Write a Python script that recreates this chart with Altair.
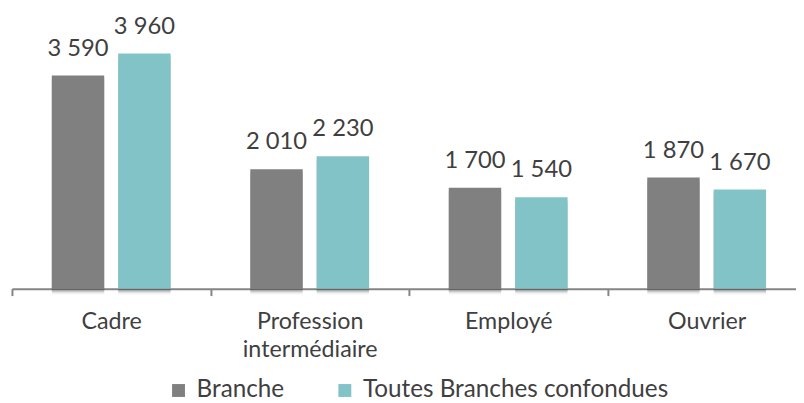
import altair as alt
import pandas as pd

categories = ["Cadre", "Profession intermédiaire", "Employé", "Ouvrier"]
series = ["Branche", "Toutes Branches confondues"]
branche = [3590, 2010, 1700, 1870]
toutes = [3960, 2230, 1540, 1670]
colors = ["#808080", "#82c3c8"]

rows = []
for cat, b, t in zip(categories, branche, toutes):
    for s, v in zip(series, [b, t]):
        rows.append({"category": cat, "series": s, "value": v,
                     "label": f"{v:,}".replace(",", " ")})
df = pd.DataFrame(rows)

FONT = "Lato"
TXT = "#3f3f3f"

x = alt.X(
    "category:N", sort=categories,
    scale=alt.Scale(paddingInner=0, paddingOuter=0),
    axis=alt.Axis(
        title=None, tickBand="extent", labelAngle=0, labelFontSize=23.5,
        labelFont=FONT, labelColor=TXT, domainColor="#858585", domainWidth=2,
        tickColor="#858585", tickWidth=2, tickSize=7, labelPadding=14,
        labelLineHeight=29, labelOverlap=False,
        labelExpr="datum.value == 'Profession intermédiaire' ? ['Profession', 'intermédiaire'] : datum.value",
    ),
)
xo = alt.XOffset("series:N", sort=series,
                 scale=alt.Scale(paddingInner=0.21, paddingOuter=0.6))
y = alt.Y("value:Q", scale=alt.Scale(domain=[0, 4692], nice=False), axis=None)

shadow0 = alt.Chart(df).mark_bar(
    color="#000000", opacity=0.035, xOffset=-9, yOffset=6, strokeWidth=0
).encode(x=x, xOffset=xo, y=y)
shadow1 = alt.Chart(df).mark_bar(
    color="#000000", opacity=0.045, xOffset=-6, yOffset=5, strokeWidth=0
).encode(x=x, xOffset=xo, y=y)
shadow2 = alt.Chart(df).mark_bar(
    color="#000000", opacity=0.07, xOffset=-3.5, yOffset=4, strokeWidth=0
).encode(x=x, xOffset=xo, y=y)
shadow3 = alt.Chart(df).mark_bar(
    color="#000000", opacity=0.10, xOffset=-1.5, yOffset=3, strokeWidth=0
).encode(x=x, xOffset=xo, y=y)

bars = alt.Chart(df).mark_bar(strokeWidth=0).encode(
    x=x, xOffset=xo, y=y,
    color=alt.Color(
        "series:N", sort=series,
        scale=alt.Scale(domain=series, range=colors),
        legend=alt.Legend(
            title=None, orient="none", legendX=156, legendY=372, padding=0,
            direction="horizontal", symbolType="square", symbolSize=170,
            symbolStrokeWidth=0, labelFontSize=24.5, labelFont=FONT,
            labelColor=TXT, columnPadding=49, labelOffset=6, labelLimit=0,
        ),
    ),
)

labels = alt.Chart(df).mark_text(
    dy=-20, baseline="alphabetic", fontSize=24, font=FONT, color=TXT
).encode(x=x, xOffset=xo, y=y, text="label:N")

chart = (shadow0 + shadow1 + shadow2 + shadow3 + bars + labels).properties(
    width=802, height=281.5,
    autosize=alt.AutoSizeParams(type="none"),
    padding={"left": 4, "top": 0, "right": -10, "bottom": 113.5},
).configure_view(stroke=None)

chart.save("out.html", embed_options={"renderer": "svg", "actions": False})
